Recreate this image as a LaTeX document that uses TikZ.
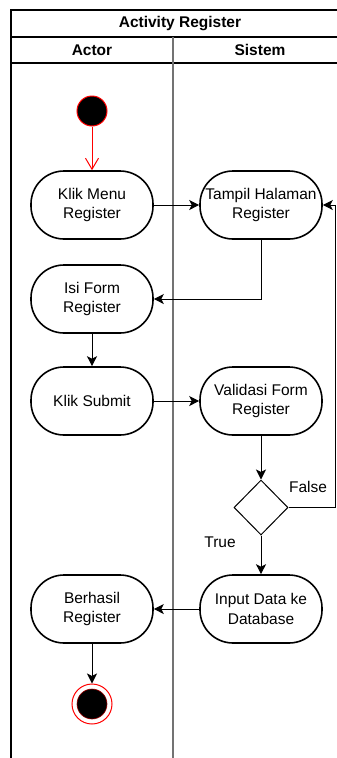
\documentclass[tikz,border=0pt]{standalone}
\usepackage{fontspec}
\setmainfont{Liberation Sans}
\usetikzlibrary{arrows.meta,shapes.geometric}
\begin{document}
\begin{tikzpicture}[x=1pt,y=-1pt,
  font=\fontsize{15.5}{19.5}\selectfont,
  act/.style={draw, line width=1.6pt, rounded corners=33pt, minimum width=122pt, minimum height=68pt, align=center, inner sep=1pt},
  flow/.style={-{Stealth[length=10pt,width=10pt,inset=2.5pt]}, line width=1pt},
  hdr/.style={font=\fontsize{15.5}{19}\selectfont\bfseries},
  lbl/.style={inner sep=0pt}
]
\useasboundingbox (0,0) rectangle (337,758);
\clip (0,0) rectangle (337,758);
% frame
\draw[line width=1.3pt] (11,775) -- (11,10) -- (349,10) -- (349,775);
\draw[line width=1.3pt] (11,37) -- (349,37);
\draw[line width=1.3pt] (11,63) -- (349,63);
\draw[line width=1.3pt, black!55] (173,37) -- (173,775);
\node[hdr] (title) at (180,23.5) {Activity Register};
\node[hdr] (actor) at (92,50) {Actor};
\node[hdr] (sistem) at (260,50) {Sistem};
% nodes
\node[circle, draw=red, fill=black, line width=1pt, minimum size=30pt, inner sep=0pt] (start) at (92,111) {};
\node[act] (klik) at (92,205) {Klik Menu\\Register};
\node[act] (tampil) at (261,205) {Tampil Halaman\\Register};
\node[act] (isi) at (92,299) {Isi Form\\Register};
\node[act] (submit) at (92,401) {Klik Submit};
\node[act] (valid) at (261,401) {Validasi Form\\Register};
\node[diamond, draw, line width=1pt, minimum width=54pt, minimum height=55pt, inner sep=0pt] (dec) at (261,507.5) {};
\node[act] (input) at (261,609) {Input Data ke\\Database};
\node[act] (berhasil) at (92,609) {Berhasil\\Register};
\node[circle, draw=red, fill=white, line width=1pt, minimum size=40pt, inner sep=0pt] (end) at (92,704) {};
\node[circle, draw=red!60!black, fill=black, line width=0.6pt, minimum size=30pt, inner sep=0pt] (endin) at (end) {};
\node[lbl] (false) at (308,487) {False};
\node[lbl] (true) at (220,542) {True};
\coordinate (fr) at (335,507.5);
% edges
\draw[red, line width=1pt, -{Straight Barb[length=11pt,width=13pt]}] (start) -- (klik);
\draw[flow] (klik) -- (tampil);
\draw[flow] (tampil.south) |- (isi.east);
\draw[flow] (isi) -- (submit);
\draw[flow] (submit) -- (valid);
\draw[flow] (valid) -- (dec);
\draw[flow] (dec.east) -- (fr) |- (tampil.east);
\draw[flow] (dec) -- (input);
\draw[flow] (input) -- (berhasil);
\draw[flow] (berhasil) -- (end);
\end{tikzpicture}
\end{document}
